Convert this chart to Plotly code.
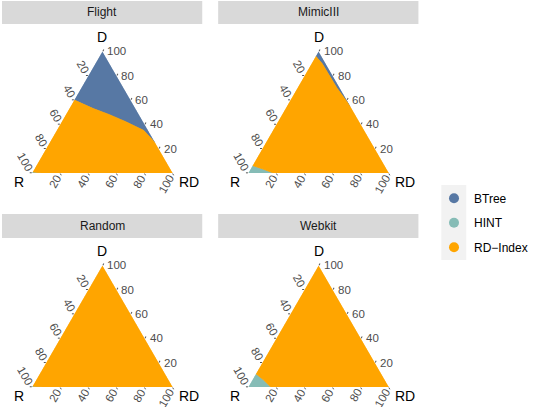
import plotly.graph_objects as go

FONT = "Liberation Sans, Arial, sans-serif"

panels = ["Flight", "MimicIII", "Random", "Webkit"]
index_names = ["BTree", "HINT", "RD−Index"]
index_colors = ["#5778A4", "#86BCB6", "#FFA500"]

# Region borders in percent (D, R, RD).
# BTree border runs from the left edge to the right edge, below the D corner.
flight_btree_D = [60, 53, 48, 42, 35, 25]
flight_btree_R = [40, 30, 21, 12, 3, 0]
flight_btree_RD = [0, 17, 31, 46, 62, 75]

mimic_btree_D = [96, 90, 70, 55]
mimic_btree_R = [4, 2.5, 2, 0]
mimic_btree_RD = [0, 7.5, 28, 45]

# HINT border runs from the left edge to the bottom edge, around the R corner.
flight_hint_D = [1, 0]
flight_hint_R = [99, 93]
flight_hint_RD = [0, 7]

mimic_hint_D = [6.2, 3.5, 0]
mimic_hint_R = [93.8, 88.3, 82]
mimic_hint_RD = [0, 8.2, 18]

random_hint_D = [0.8, 0]
random_hint_R = [99.2, 92]
random_hint_RD = [0, 8]

webkit_hint_D = [10.9, 6, 0]
webkit_hint_R = [89.1, 86.3, 84]
webkit_hint_RD = [0, 7.7, 16]

btree_borders = {
    "Flight": (flight_btree_D, flight_btree_R, flight_btree_RD),
    "MimicIII": (mimic_btree_D, mimic_btree_R, mimic_btree_RD),
    "Random": None,
    "Webkit": None,
}
hint_borders = {
    "Flight": (flight_hint_D, flight_hint_R, flight_hint_RD),
    "MimicIII": (mimic_hint_D, mimic_hint_R, mimic_hint_RD),
    "Random": (random_hint_D, random_hint_R, random_hint_RD),
    "Webkit": (webkit_hint_D, webkit_hint_R, webkit_hint_RD),
}

# Edge ticks read clockwise: left edge R, bottom edge RD, right edge D.
tick_labels = [20, 40, 60, 80, 100]


def pts(border):
    d, r, rd = border
    return list(zip(d, r, rd))


def region_polygons(name):
    top = (100, 0, 0)
    left = (0, 100, 0)
    right = (0, 0, 100)
    bt = btree_borders[name]
    hn = hint_borders[name]
    polys = {}
    if bt is not None:
        polys["BTree"] = pts(bt) + [top]
    if hn is not None:
        polys["HINT"] = [left] + pts(hn)
    rd = pts(hn) if hn is not None else [left]
    rd = rd + [right]
    rd = rd + (list(reversed(pts(bt))) if bt is not None else [top])
    polys["RD−Index"] = rd
    return polys


W, H = 533, 407
SIDE = 141.0
TRI_H = SIDE * 3 ** 0.5 / 2
col_cx = [102.8, 319.8]
row_bottom = [173.3, 387.3]
strip_x = [(2, 203), (219, 420)]
strip_y = [(1, 24), (214, 238)]
TICK_SIZE = 11.5
DIGIT_W = 0.556 * TICK_SIZE
GAP_LEFT = 4.0
GAP_BOTTOM = 3.0
GAP_RIGHT = 3.0

fig = go.Figure()
layout_upd = {}
annotations = []
shapes = []


def px_to_paper(x, y):
    return x / W, 1 - y / H


def add_text(txt, x, y, size, color, angle=0, xanchor="center"):
    px, py = px_to_paper(x, y)
    annotations.append(dict(
        text=txt, x=px, y=py, xref="paper", yref="paper",
        xanchor=xanchor, yanchor="middle", showarrow=False, textangle=angle,
        font=dict(family=FONT, size=size, color=color),
    ))


for i, name in enumerate(panels):
    col, row = i % 2, i // 2
    sub = "ternary" if i == 0 else f"ternary{i + 1}"
    cx, by = col_cx[col], row_bottom[row]
    x0, x1 = cx - SIDE / 2, cx + SIDE / 2
    y_top = by - TRI_H

    polys = region_polygons(name)
    for idx, color in zip(index_names, index_colors):
        if idx not in polys:
            continue
        p = polys[idx] + [polys[idx][0]]
        fig.add_trace(go.Scatterternary(
            a=[q[0] for q in p], b=[q[1] for q in p], c=[q[2] for q in p],
            mode="lines", fill="toself", fillcolor=color,
            line=dict(color=color, width=0.8),
            subplot=sub, showlegend=False, hoverinfo="skip",
        ))

    axis_common = dict(
        showgrid=False, showline=False, ticks="outside", ticklen=2,
        tickwidth=1, tickcolor="#555555", tickmode="array",
        showticklabels=False, title=dict(text=""),
    )
    layout_upd[sub] = dict(
        sum=100,
        bgcolor="white",
        domain=dict(x=[x0 / W, x1 / W], y=[1 - by / H, 1 - y_top / H]),
        # a = D (left-edge ticks at R = 100 - a)
        aaxis=dict(axis_common, tickvals=[100 - v for v in tick_labels]),
        # b = R (bottom ticks at RD = 100 - b)
        baxis=dict(axis_common, tickvals=[100 - v for v in tick_labels]),
        # c = RD (right-edge ticks at D = 100 - c)
        caxis=dict(axis_common, tickvals=[100 - v for v in tick_labels]),
    )

    # tick labels along the three edges
    for v in tick_labels:
        f = v / 100
        width_half = len(str(v)) * DIGIT_W / 2
        # left edge: R value, text turned 60 deg clockwise ending at the tick
        k = width_half + GAP_LEFT
        tx, ty = x0 + (1 - f) * SIDE / 2, by - (1 - f) * TRI_H
        add_text(str(v), tx - k * 0.5, ty - k * 0.866,
                 TICK_SIZE, "#4D4D4D", angle=60)
        # bottom edge: RD value, text turned 60 deg anticlockwise
        k = width_half + GAP_BOTTOM
        tx, ty = x0 + f * SIDE, by
        add_text(str(v), tx - k * 0.5, ty + k * 0.866,
                 TICK_SIZE, "#4D4D4D", angle=-60)
        # right edge: D value, horizontal
        tx, ty = x1 - f * SIDE / 2, by - f * TRI_H
        add_text(str(v), tx + GAP_RIGHT, ty, TICK_SIZE, "#4D4D4D",
                 xanchor="left")

    # corner names
    add_text("D", cx, y_top - 14.3, 14, "black")
    add_text("R", x0 - 13.3, by + 8.2, 14, "black")
    add_text("RD", x1 + 16.7, by + 8.2, 14, "black")

    # facet strip
    sx0, sx1 = strip_x[col]
    sy0, sy1 = strip_y[row]
    shapes.append(dict(
        type="rect", xref="paper", yref="paper",
        x0=sx0 / W, x1=sx1 / W, y0=1 - sy1 / H, y1=1 - sy0 / H,
        fillcolor="#D9D9D9", line=dict(width=0), layer="below",
    ))
    add_text(name, (sx0 + sx1) / 2, (sy0 + sy1) / 2, 12, "#1A1A1A")

# legend entries
for idx, color in zip(index_names, index_colors):
    fig.add_trace(go.Scatterternary(
        a=[None], b=[None], c=[None], mode="markers", name=idx,
        marker=dict(color=color, size=10), subplot="ternary",
        legendgroup=idx, showlegend=True,
    ))

# grey key background behind the legend symbols
shapes.append(dict(
    type="rect", xref="paper", yref="paper",
    x0=443 / W, x1=468 / W, y0=1 - 260 / H, y1=1 - 185 / H,
    fillcolor="#F2F2F2", line=dict(width=0), layer="below",
))

fig.update_layout(
    width=W, height=H,
    margin=dict(l=0, r=0, t=0, b=0),
    paper_bgcolor="white", plot_bgcolor="white",
    font=dict(family=FONT),
    annotations=annotations, shapes=shapes,
    legend=dict(
        x=436 / W, y=1 - 222.7 / H, xanchor="left", yanchor="middle",
        bgcolor="rgba(0,0,0,0)", tracegroupgap=5.5,
        font=dict(family=FONT, size=12, color="black"),
    ),
    **layout_upd,
)

fig.write_html("out.html")
